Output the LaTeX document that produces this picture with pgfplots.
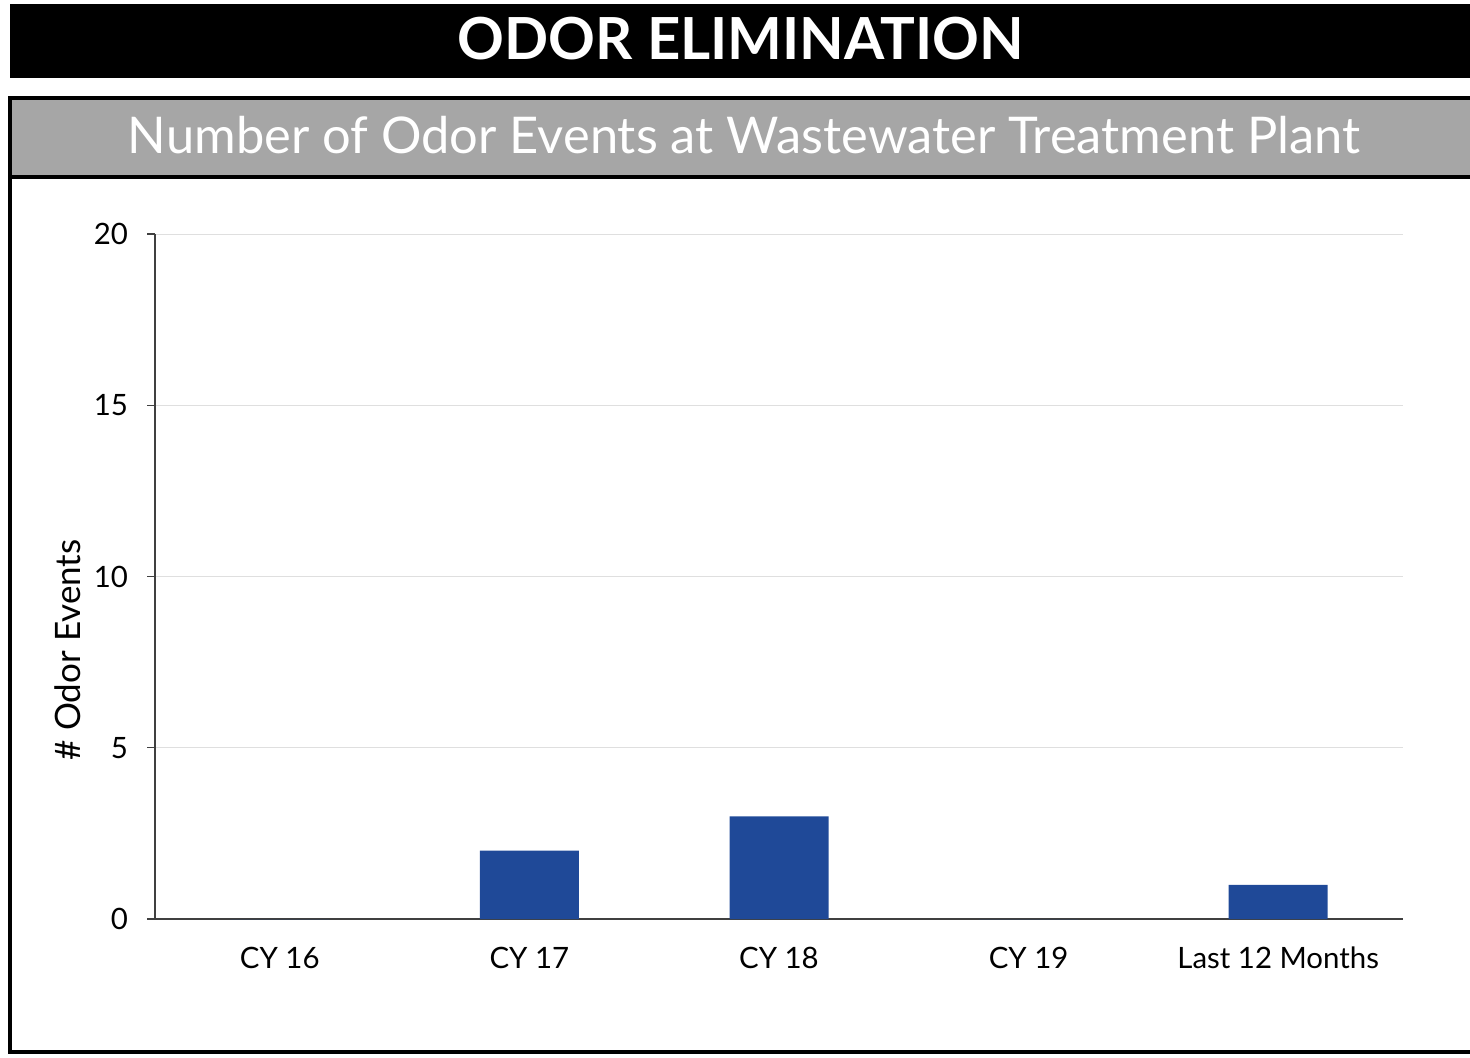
\documentclass[border=0pt]{standalone}
\usepackage{pgfplots}
\pgfplotsset{compat=1.18}
\usepackage{fontspec}
\setmainfont{Lato}
\definecolor{barblue}{RGB}{31,73,152}
\definecolor{headgray}{RGB}{166,166,166}
\begin{document}
\begin{tikzpicture}
% frame and banners, in reference pixels (1px = 0.5pt, y downwards)
\begin{scope}[x=0.5pt,y=-0.5pt]
  \useasboundingbox (0,0) rectangle (1470,1057);
  \fill[black] (10,4) rectangle (1480,78);
  \node[anchor=base,text=white,inner sep=0pt,font=\fontsize{29}{33}\selectfont\bfseries]
    at (741,59) {ODOR ELIMINATION};
  \fill[headgray] (10,98) rectangle (1480,177);
  \node[anchor=base,text=white,inner sep=0pt,font=\fontsize{25.3}{29}\selectfont]
    at (744,153) {Number of Odor Events at Wastewater Treatment Plant};
  \draw[line width=2pt] (1490,98) -- (10,98) -- (10,1052) -- (1490,1052);
  \draw[line width=2pt] (10,177) -- (1490,177);
  \coordinate (A) at (155,919);
\end{scope}
\begin{axis}[
  at={(A)}, anchor=south west,
  scale only axis, width=624pt, height=342.5pt,
  ybar, bar width=49.5pt,
  xmin=-0.5, xmax=4.5, ymin=0, ymax=20,
  ytick={0,5,10,15,20},
  xtick={0,...,4},
  xticklabels={CY 16, CY 17, CY 18, CY 19, Last 12 Months},
  axis lines*=left,
  axis line style={black!75, line width=0.6pt},
  tick style={black!75, line width=0.6pt},
  xtick style={draw=none},
  tick align=outside, major tick length=4pt,
  ymajorgrids, grid style={gray!25, line width=0.5pt},
  /pgf/number format/assume math mode=true,
  ticklabel style={font=\fontsize{14.7}{18}\selectfont},
  xticklabel style={yshift=-6.5pt},
  yticklabel style={xshift=-6pt},
  ylabel={\# Odor Events},
  ylabel style={font=\fontsize{17.5}{21}\selectfont,
    at={(axis description cs:-0.0697,0.393)}, anchor=center},
]
\addplot[fill=barblue, draw=none] coordinates {(0,0) (1,2) (2,3) (3,0) (4,1)};
\end{axis}
\end{tikzpicture}
\end{document}
